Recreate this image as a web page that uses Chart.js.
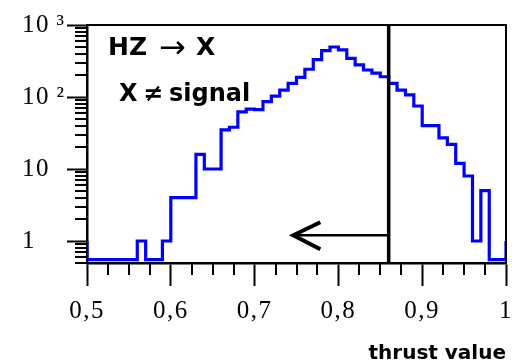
<!DOCTYPE html>
<html>
<head>
<meta charset="utf-8">
<title>Thrust value</title>
<script src="https://cdn.jsdelivr.net/npm/chart.js@4/dist/chart.umd.min.js"></script>
<style>
  html, body { margin: 0; padding: 0; background: #ffffff; }
  #wrap { width: 512px; height: 360px; }
</style>
</head>
<body>
<div id="wrap"><canvas id="c" width="512" height="360"></canvas></div>
<script>
// Thrust distribution of HZ -> X events (X != signal), bins 0.01 wide
const binEdges = [
  0.50, 0.51, 0.52, 0.53, 0.54, 0.55, 0.56, 0.57, 0.58, 0.59,
  0.60, 0.61, 0.62, 0.63, 0.64, 0.65, 0.66, 0.67, 0.68, 0.69,
  0.70, 0.71, 0.72, 0.73, 0.74, 0.75, 0.76, 0.77, 0.78, 0.79,
  0.80, 0.81, 0.82, 0.83, 0.84, 0.85, 0.86, 0.87, 0.88, 0.89,
  0.90, 0.91, 0.92, 0.93, 0.94, 0.95, 0.96, 0.97, 0.98, 0.99
];
const upperEdge = 1.00;
const counts = [
  0, 0, 0, 0, 0, 0, 1, 0, 0, 1,
  4, 4, 4, 16, 10, 10, 35, 38, 62, 68,
  67, 86, 103, 125, 155, 187, 243, 330, 440, 495,
  450, 345, 280, 237, 215, 191, 155, 125, 107, 75,
  40, 40, 27, 22, 12, 8, 1, 5, 0, 0
];
const underflow = 1;
const overflow = 1;
// empty bins are drawn on the floor of the log axis
const emptyLevel = 0.55;

const xTickValues = [0.5, 0.6, 0.7, 0.8, 0.9, 1.0];
const xTickLabels = ['0,5', '0,6', '0,7', '0,8', '0,9', '1'];
const yTickValues = [1, 10, 100, 1000];
const yTickLabels = ['1', '10', '10\u2009\u00B2', '10\u2009\u00B3'];

// selection cut and the arrow pointing to the kept region
const cutValue = 0.86;
const arrowTip = 0.745;
const arrowLevel = 1.2;

const shown = v => (v > 0 ? v : emptyLevel);
const points = [{ x: binEdges[0], y: underflow }];
binEdges.forEach((edge, i) => points.push({ x: edge, y: shown(counts[i]) }));
points.push({ x: upperEdge, y: shown(counts[counts.length - 1]) });
points.push({ x: upperEdge, y: overflow });

const decorations = {
  id: 'decorations',
  beforeDraw(chart) {
    chart.ctx.letterSpacing = '1.5px';
  },
  afterDraw(chart) {
    const { ctx, chartArea: a, scales: { x, y } } = chart;
    ctx.save();
    ctx.letterSpacing = '0px';
    ctx.strokeStyle = '#000';
    ctx.fillStyle = '#000';
    ctx.lineCap = 'butt';

    // top and right frame
    ctx.lineWidth = 2;
    ctx.beginPath();
    ctx.moveTo(a.left, a.top);
    ctx.lineTo(a.right, a.top);
    ctx.lineTo(a.right, a.bottom);
    ctx.stroke();

    // minor ticks on the x axis (quarter steps)
    ctx.lineWidth = 2;
    ctx.beginPath();
    for (let i = 0; i < xTickValues.length - 1; i++) {
      const step = (xTickValues[i + 1] - xTickValues[i]) / 4;
      for (let k = 1; k < 4; k++) {
        const px = Math.round(x.getPixelForValue(xTickValues[i] + k * step));
        ctx.moveTo(px, a.bottom);
        ctx.lineTo(px, a.bottom + 12);
      }
    }
    // minor ticks on the log y axis (2..9 per decade)
    for (let d = 0.1; d < 1000; d *= 10) {
      for (let k = 2; k <= 9; k++) {
        const v = k * d;
        if (v < y.min || v > y.max) continue;
        const py = Math.round(y.getPixelForValue(v));
        ctx.moveTo(a.left, py);
        ctx.lineTo(a.left - 12, py);
      }
    }
    ctx.stroke();

    // cut line
    const cx = x.getPixelForValue(cutValue);
    ctx.lineWidth = 3.5;
    ctx.beginPath();
    ctx.moveTo(cx, a.top);
    ctx.lineTo(cx, a.bottom);
    ctx.stroke();

    // arrow from the cut towards lower thrust
    const tx = x.getPixelForValue(arrowTip);
    const ay = y.getPixelForValue(arrowLevel);
    ctx.lineWidth = 2.5;
    ctx.beginPath();
    ctx.moveTo(cx, ay);
    ctx.lineTo(tx + 2, ay);
    ctx.stroke();
    ctx.lineWidth = 4;
    ctx.lineJoin = 'miter';
    ctx.beginPath();
    ctx.moveTo(tx + 28, ay - 13);
    ctx.lineTo(tx + 1, ay);
    ctx.lineTo(tx + 28, ay + 14);
    ctx.stroke();

    // process labels
    ctx.textAlign = 'left';
    ctx.textBaseline = 'alphabetic';
    ctx.font = 'bold 25px "DejaVu Sans"';
    ctx.fillText('HZ', a.left + 21, 55);
    ctx.font = '32px "DejaVu Sans"';
    ctx.fillText('\u2192', a.left + 72, 58);
    ctx.font = 'bold 25px "DejaVu Sans"';
    ctx.fillText('X', a.left + 109, 55);
    ctx.font = 'bold 24px "DejaVu Sans"';
    ctx.fillText('X', a.left + 32, 101);
    ctx.fillText('\u2260', a.left + 56, 101);
    ctx.fillText('signal', a.left + 82, 101);

    // axis title
    ctx.font = 'bold 20px "DejaVu Sans"';
    ctx.textAlign = 'right';
    ctx.fillText('thrust value', a.right, 359);
    ctx.restore();
  }
};

const tickFont = { family: '"Liberation Serif", "Times New Roman", serif', size: 25 };

new Chart(document.getElementById('c'), {
  type: 'line',
  data: {
    datasets: [{
      data: points,
      stepped: true,
      borderColor: '#0000ff',
      borderWidth: 3.2,
      borderJoinStyle: 'miter',
      pointRadius: 0,
      fill: false,
      tension: 0
    }]
  },
  options: {
    responsive: false,
    animation: false,
    devicePixelRatio: 1,
    layout: { padding: { left: 22, top: 25, right: 6, bottom: 0 } },
    plugins: { legend: { display: false }, tooltip: { enabled: false } },
    scales: {
      x: {
        type: 'linear',
        min: 0.5,
        max: 1.0,
        afterBuildTicks: s => { s.ticks = xTickValues.map(v => ({ value: v })); },
        afterFit: s => { s.height = 97; s.paddingLeft = 0; s.paddingRight = 0; },
        ticks: {
          callback: (v, i) => xTickLabels[i],
          font: tickFont,
          color: '#000',
          padding: 10,
          maxRotation: 0,
          autoSkip: false
        },
        grid: { drawOnChartArea: false, drawTicks: true, tickLength: 23, tickWidth: 2, tickColor: '#000' },
        border: { display: true, color: '#000', width: 2.5 }
      },
      y: {
        type: 'logarithmic',
        min: 0.495,
        max: 1000,
        afterBuildTicks: s => { s.ticks = yTickValues.map(v => ({ value: v })); },
        afterFit: s => { s.width = 65; s.paddingTop = 0; s.paddingBottom = 0; },
        ticks: {
          callback: (v, i) => yTickLabels[i],
          font: tickFont,
          color: '#000',
          crossAlign: 'far',
          padding: 0,
          autoSkip: false
        },
        grid: { drawOnChartArea: false, drawTicks: true, tickLength: 20, tickWidth: 2, tickColor: '#000' },
        border: { display: true, color: '#000', width: 2.5 }
      }
    }
  },
  plugins: [decorations]
});
</script>
</body>
</html>
